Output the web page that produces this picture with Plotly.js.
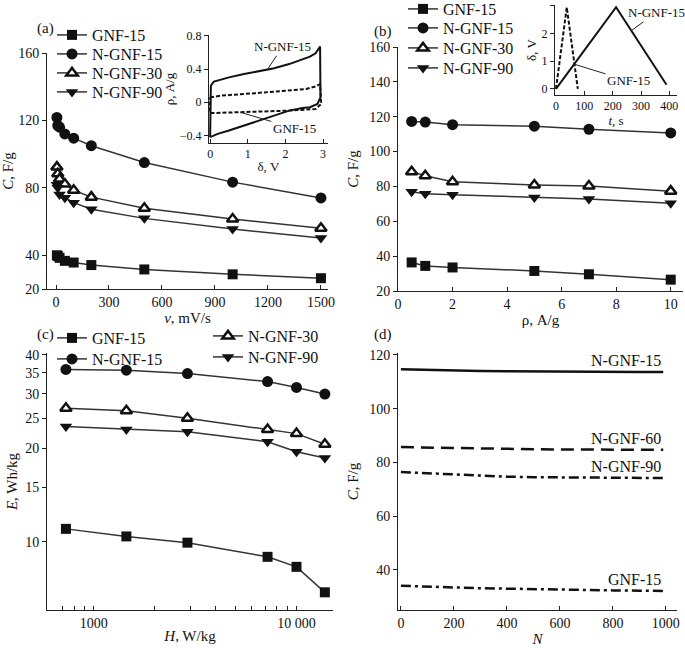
<!DOCTYPE html>
<html><head><meta charset="utf-8">
<script src="https://cdn.plot.ly/plotly-3.0.1.min.js"></script>
<style>html,body{margin:0;padding:0;background:#fff}#chart{width:685px;height:648px}</style>
</head><body><div id="chart"></div>
<script>
// ---------- Panel (a): C vs scan rate ----------
const vA = [5, 10, 20, 50, 100, 200, 500, 1000, 1500];
const cA_GNF15 = [40, 39.6, 38.5, 36.7, 35.7, 34.2, 31.6, 28.7, 26.4];
const cA_NGNF15 = [121.8, 117, 116, 112, 109.5, 105, 95, 83.4, 74];
const cA_NGNF30 = [92.3, 88.4, 85.3, 82.3, 78.6, 74.5, 67.9, 61.5, 56];
const cA_NGNF90 = [81.9, 80, 76.1, 74.2, 71.2, 67.3, 61.9, 55.6, 50.2];
// inset (a): CV curves
const cvV_NGNF15 = [0, 0, 0.02, 0.1, 0.5, 0.9, 1.35, 1.7, 2.1, 2.45, 2.65, 2.8, 2.92, 2.93, 2.85, 2.65, 2.45, 2.1, 1.7, 1.35, 0.9, 0.5, 0.2, 0];
const cvI_NGNF15 = [-0.42, 0.1, 0.2, 0.25, 0.3, 0.34, 0.38, 0.41, 0.46, 0.52, 0.55, 0.59, 0.67, 0.06, -0.02, -0.06, -0.07, -0.1, -0.16, -0.22, -0.28, -0.34, -0.38, -0.42];
const cvV_GNF15 = [0, 0.3, 1.2, 2.1, 2.55, 2.8, 2.92, 2.95, 2.8, 2.1, 1.2, 0.3, 0, 0];
const cvI_GNF15 = [0.06, 0.08, 0.11, 0.14, 0.16, 0.19, 0.22, -0.02, -0.08, -0.1, -0.11, -0.125, -0.13, 0.06];
// ---------- Panel (b): C vs current density ----------
const rhoB = [0.5, 1, 2, 5, 7, 10];
const cB_GNF15 = [36.4, 34.4, 33.5, 31.5, 29.6, 26.5];
const cB_NGNF15 = [117.3, 116.9, 115.4, 114.6, 112.8, 110.7];
const cB_NGNF30 = [88.4, 86.1, 82.7, 80.8, 80.2, 77.3];
const cB_NGNF90 = [77, 75.8, 75.2, 73.6, 72.8, 70.4];
// inset (b): charge/discharge
const gcdT_NGNF15 = [0, 212, 390];
const gcdV_NGNF15 = [0, 2.95, 0.15];
const gcdT_GNF15 = [0, 38, 77];
const gcdV_GNF15 = [0, 2.95, 0];
// ---------- Panel (c): Ragone ----------
const hC = [730, 1450, 2900, 7200, 10000, 13800];
const eC_GNF15 = [11.0, 10.4, 9.93, 8.94, 8.3, 6.87];
const eC_NGNF15 = [35.9, 35.7, 34.8, 32.8, 31.4, 29.9];
const eC_NGNF30 = [26.9, 26.4, 25.0, 23.0, 22.3, 20.6];
const eC_NGNF90 = [23.5, 23.0, 22.6, 21.0, 19.5, 18.6];
// ---------- Panel (d): cycling ----------
const nD = [0, 100, 200, 300, 400, 500, 600, 700, 800, 900, 990];
const cD_NGNF15 = [114.7, 114.4, 114.2, 114.0, 113.9, 113.8, 113.7, 113.7, 113.6, 113.6, 113.6];
const cD_NGNF60 = [85.7, 85.5, 85.3, 85.1, 85.0, 84.9, 84.8, 84.8, 84.7, 84.7, 84.7];
const cD_NGNF90 = [76.4, 76.0, 75.5, 75.0, 74.7, 74.5, 74.4, 74.3, 74.3, 74.2, 74.2];
const cD_GNF15 = [34.1, 33.9, 33.5, 33.2, 33.0, 32.8, 32.6, 32.5, 32.4, 32.3, 32.2];

const W = 685, H = 648;
const FX = p => p / W, FY = p => 1 - p / H;
const FONT = 'Liberation Serif, Times New Roman, serif';
const LC = '#333';
const mk = {
  sq: {symbol: 'square', size: 10, color: '#111'},
  ci: {symbol: 'circle', size: 11, color: '#111'},
  tu: {symbol: 'triangle-up', size: 10, color: '#fff', line: {color: '#111', width: 2.5}},
  td: {symbol: 'triangle-down', size: 11, color: '#111'}
};
function series(x, y, name, m, xa, ya, lg) {
  return {x, y, name, type: 'scatter', mode: 'lines+markers', xaxis: xa, yaxis: ya,
    line: {color: LC, width: 1.5}, marker: m, legend: lg, showlegend: true};
}
function plain(x, y, xa, ya, dash, width) {
  return {x, y, type: 'scatter', mode: 'lines', xaxis: xa, yaxis: ya, showlegend: false,
    line: {color: '#111', width: width || 2, dash: dash || 'solid'}, hoverinfo: 'skip'};
}
const traces = [
  series(vA, cA_GNF15, 'GNF-15', mk.sq, 'x', 'y', 'legend'),
  series(vA, cA_NGNF15, 'N-GNF-15', mk.ci, 'x', 'y', 'legend2'),
  series(vA, cA_NGNF30, 'N-GNF-30', mk.tu, 'x', 'y', 'legend3'),
  series(vA, cA_NGNF90, 'N-GNF-90', mk.td, 'x', 'y', 'legend4'),
  plain(cvV_NGNF15, cvI_NGNF15, 'x2', 'y2', 'solid', 2),
  plain(cvV_GNF15, cvI_GNF15, 'x2', 'y2', '4px,2px', 2),
  series(rhoB, cB_GNF15, 'GNF-15', mk.sq, 'x3', 'y3', 'legend5'),
  series(rhoB, cB_NGNF15, 'N-GNF-15', mk.ci, 'x3', 'y3', 'legend6'),
  series(rhoB, cB_NGNF30, 'N-GNF-30', mk.tu, 'x3', 'y3', 'legend7'),
  series(rhoB, cB_NGNF90, 'N-GNF-90', mk.td, 'x3', 'y3', 'legend8'),
  plain(gcdT_NGNF15, gcdV_NGNF15, 'x4', 'y4', 'solid', 2),
  plain(gcdT_GNF15, gcdV_GNF15, 'x4', 'y4', '4px,2px', 2),
  series(hC, eC_GNF15, 'GNF-15', mk.sq, 'x5', 'y5', 'legend9'),
  series(hC, eC_NGNF15, 'N-GNF-15', mk.ci, 'x5', 'y5', 'legend10'),
  series(hC, eC_NGNF30, 'N-GNF-30', mk.tu, 'x5', 'y5', 'legend11'),
  series(hC, eC_NGNF90, 'N-GNF-90', mk.td, 'x5', 'y5', 'legend12'),
  plain(nD, cD_NGNF15, 'x6', 'y6', 'solid', 2.5),
  plain(nD, cD_NGNF60, 'x6', 'y6', '13px,7px', 2.5),
  plain(nD, cD_NGNF90, 'x6', 'y6', '10px,4px,3px,4px', 2.5),
  plain(nD, cD_GNF15, 'x6', 'y6', '10px,4px,3px,4px', 2.5)
];

function ax(o) {
  return Object.assign({showline: true, linecolor: '#222', linewidth: 1, showgrid: false, zeroline: false,
    ticks: 'outside', ticklen: 4, tickcolor: '#222', tickfont: {family: FONT, size: 14, color: '#111'},
    automargin: false, fixedrange: true}, o);
}
const tf = s => ({family: FONT, size: s || 15, color: '#111'});
function leg(xp, yp) {
  return {bgcolor: 'rgba(0,0,0,0)', font: tf(16), xanchor: 'left', yanchor: 'middle', itemwidth: 30,
    x: FX(xp), y: FY(yp)};
}

const layout = {
  width: W, height: H, margin: {l: 0, r: 0, t: 0, b: 0, autoexpand: false},
  paper_bgcolor: '#fff', plot_bgcolor: 'rgba(0,0,0,0)', font: tf(14),
  xaxis: ax({domain: [FX(47), FX(328)], anchor: 'y', range: [-51, 1540], tickvals: [0, 300, 600, 900, 1200, 1500], ticks: 'inside',
    title: {text: '<i>v</i>, mV/s', font: tf(15), standoff: 2}}),
  yaxis: ax({domain: [FY(289), FY(53)], anchor: 'x', range: [20, 160], tickvals: [20, 40, 80, 120, 160],
    title: {text: '<i>C</i>, F/g', font: tf(15), standoff: 2}}),
  xaxis2: ax({domain: [FX(209), FX(328)], anchor: 'y2', range: [-0.03, 3.13], tickvals: [0, 1, 2, 3], ticks: 'inside', tickfont: tf(12),
    title: {text: 'δ, V', font: tf(13), standoff: 1}}),
  yaxis2: ax({domain: [FY(143), FY(35)], anchor: 'x2', range: [-0.49, 0.81], tickvals: [-0.4, 0, 0.4, 0.8], tickfont: tf(12),
    ticktext: ['−0.4', '0', '0.4', '0.8'], title: {text: 'ρ, A/g', font: tf(13), standoff: 2}}),
  xaxis3: ax({domain: [FX(398), FX(683)], anchor: 'y3', range: [0, 10.45], tickvals: [0, 2, 4, 6, 8, 10], ticks: 'inside',
    title: {text: 'ρ, A/g', font: tf(15), standoff: 0}}),
  yaxis3: ax({domain: [FY(291), FY(47)], anchor: 'x3', range: [20, 160], tickvals: [20, 40, 60, 80, 100, 120, 140, 160],
    title: {text: '<i>C</i>, F/g', font: tf(15), standoff: 6}}),
  xaxis4: ax({domain: [FX(555), FX(677)], anchor: 'y4', range: [-3.5, 427], tickvals: [0, 100, 200, 300, 400], ticks: 'inside', tickfont: tf(12),
    title: {text: '<i>t</i>, s', font: tf(13), standoff: 2}}),
  yaxis4: ax({domain: [FY(95), FY(5)], anchor: 'x4', range: [-0.22, 3.03], tickvals: [0, 1, 2, 3], tickfont: tf(12),
    title: {text: 'δ, V', font: tf(13), standoff: 2}}),
  xaxis5: ax({domain: [FX(47), FX(333)], anchor: 'y5', type: 'log', range: [2.77, 4.18], ticks: 'inside',
    tickvals: [700, 800, 900, 1000, 2000, 3000, 4000, 5000, 6000, 7000, 8000, 9000, 10000],
    ticktext: ['', '', '', '1000', '', '', '', '', '', '', '', '', '10 000'],
    title: {text: '<i>H</i>, W/kg', font: tf(15), standoff: 0}}),
  yaxis5: ax({domain: [FY(610), FY(353)], anchor: 'x5', type: 'log', range: [0.78, 1.608], tickvals: [10, 15, 20, 25, 30, 35, 40],
    title: {text: '<i>E</i>, Wh/kg', font: tf(15), standoff: 3}}),
  xaxis6: ax({domain: [FX(398), FX(677)], anchor: 'y6', range: [-11, 1042], tickvals: [0, 200, 400, 600, 800, 1000], ticks: 'inside',
    title: {text: '<i>N</i>', font: tf(15), standoff: 3}}),
  yaxis6: ax({domain: [FY(610), FY(353)], anchor: 'x6', range: [25.1, 120.7], tickvals: [40, 60, 80, 100, 120],
    title: {text: '<i>C</i>, F/g', font: tf(15), standoff: 6}}),
  legend: leg(52, 35), legend2: leg(52, 54), legend3: leg(52, 73), legend4: leg(52, 92),
  legend5: leg(403, 9), legend6: leg(403, 28), legend7: leg(403, 48), legend8: leg(403, 68),
  legend9: leg(52, 338), legend10: leg(52, 359), legend11: leg(208, 336), legend12: leg(208, 357),
  annotations: [
    {text: '(a)', xref: 'paper', yref: 'paper', x: FX(35), y: FY(18), showarrow: false, font: tf(15)},
    {text: '(b)', xref: 'paper', yref: 'paper', x: FX(383), y: FY(21), showarrow: false, font: tf(15)},
    {text: '(c)', xref: 'paper', yref: 'paper', x: FX(35), y: FY(334), showarrow: false, font: tf(15)},
    {text: '(d)', xref: 'paper', yref: 'paper', x: FX(383), y: FY(334), showarrow: false, font: tf(15)},
    {text: 'N-GNF-15', xref: 'x2', yref: 'y2', x: 1.5, y: 0.38, ax: 16, ay: -24, showarrow: true, arrowhead: 0, arrowwidth: 1, arrowcolor: '#222', font: tf(13)},
    {text: 'GNF-15', xref: 'x2', yref: 'y2', x: 0.8, y: -0.12, ax: 54, ay: 16, showarrow: true, arrowhead: 0, arrowwidth: 1, arrowcolor: '#222', font: tf(13)},
    {text: 'N-GNF-15', xref: 'x4', yref: 'y4', x: 265, y: 2.1, ax: 25, ay: -18, showarrow: true, arrowhead: 0, arrowwidth: 1, arrowcolor: '#222', font: tf(13)},
    {text: 'GNF-15', xref: 'x4', yref: 'y4', x: 62, y: 0.9, ax: 55, ay: 17, showarrow: true, arrowhead: 0, arrowwidth: 1, arrowcolor: '#222', font: tf(13)},
    {text: 'N-GNF-15', xref: 'x6', yref: 'y6', x: 990, y: 113.6, xanchor: 'right', yanchor: 'bottom', yshift: 1, showarrow: false, font: tf(16)},
    {text: 'N-GNF-60', xref: 'x6', yref: 'y6', x: 990, y: 84.7, xanchor: 'right', yanchor: 'bottom', yshift: 1, showarrow: false, font: tf(16)},
    {text: 'N-GNF-90', xref: 'x6', yref: 'y6', x: 990, y: 74.2, xanchor: 'right', yanchor: 'bottom', yshift: 1, showarrow: false, font: tf(16)},
    {text: 'GNF-15', xref: 'x6', yref: 'y6', x: 990, y: 32.2, xanchor: 'right', yanchor: 'bottom', yshift: 1, showarrow: false, font: tf(16)}
  ]
};
Plotly.newPlot('chart', traces, layout, {staticPlot: true, displayModeBar: false});
</script></body></html>
